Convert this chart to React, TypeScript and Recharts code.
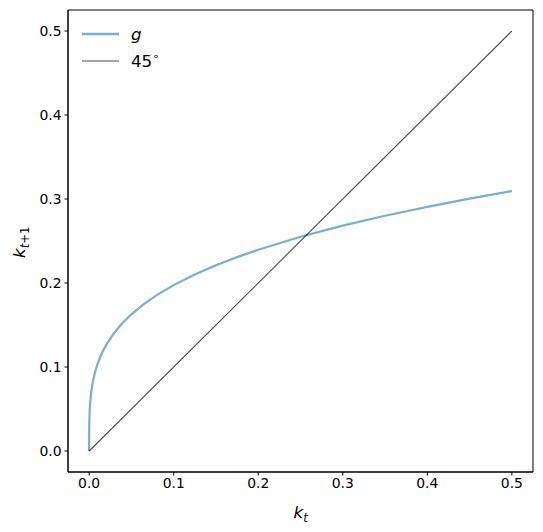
import { LineChart, Line, XAxis, YAxis, ReferenceArea, Label } from 'recharts'

// capital today
const kGrid = [
  0, 0.00001, 0.0001, 0.0005, 0.001, 0.002, 0.004, 0.007, 0.01, 0.015, 0.02, 0.03, 0.04, 0.05, 0.065,
  0.08, 0.1, 0.125, 0.15, 0.175, 0.2, 0.25, 0.3, 0.35, 0.4, 0.45, 0.5
]
// capital tomorrow, g(k)
const gValues = [
  0, 0.0151, 0.0288, 0.0451, 0.0546, 0.0663, 0.0805, 0.094, 0.1039, 0.1163, 0.126, 0.1411, 0.1529,
  0.1627, 0.1751, 0.1856, 0.1975, 0.2101, 0.2211, 0.2308, 0.2396, 0.255, 0.2683, 0.2801, 0.2907,
  0.3004, 0.3094
]
// 45 degree line end points
const diagK = [0, 0.5]
const diagY = [0, 0.5]
const tickValues = [0, 0.1, 0.2, 0.3, 0.4, 0.5]

const gData = kGrid.map((k, i) => ({ k, v: gValues[i] }))
const diagData = diagK.map((k, i) => ({ k, v: diagY[i] }))

const FONT = 'DejaVu Sans'
const tickStyle = { fontFamily: FONT, fontSize: 13.9, fill: '#000' }

const XLabel = (props: any) => {
  const { viewBox } = props
  const cx = viewBox.x + viewBox.width / 2
  return (
    <text x={cx - 7} y={518} fontFamily={FONT} fontSize={16.7} fill='#000'>
      <tspan fontStyle='italic'>k</tspan>
      <tspan fontStyle='italic' fontSize={11.7} dy={4}>t</tspan>
    </text>
  )
}

const YLabel = (props: any) => {
  const { viewBox } = props
  const cy = viewBox.y + viewBox.height / 2
  return (
    <text
      x={0}
      y={0}
      transform={`translate(25, ${cy + 17}) rotate(-90)`}
      fontFamily={FONT}
      fontSize={16.7}
      fill='#000'
    >
      <tspan fontStyle='italic'>k</tspan>
      <tspan fontSize={11.7} dy={4}>
        <tspan fontStyle='italic'>t</tspan>+1
      </tspan>
    </text>
  )
}

const LegendBox = () => (
  <div style={{ position: 'absolute', left: 82, top: 20, fontFamily: FONT, fontSize: 16.7, color: '#000' }}>
    <div style={{ display: 'flex', alignItems: 'center', height: 27 }}>
      <svg width={37} height={4} style={{ marginRight: 12 }}>
        <line x1={0} y1={2} x2={37} y2={2} stroke='#1f77b4' strokeOpacity={0.6} strokeWidth={2.5} />
      </svg>
      <span style={{ fontStyle: 'italic' }}>g</span>
    </div>
    <div style={{ display: 'flex', alignItems: 'center', height: 27 }}>
      <svg width={37} height={4} style={{ marginRight: 12 }}>
        <line x1={0} y1={2} x2={37} y2={2} stroke='#000' strokeOpacity={0.7} strokeWidth={1.2} />
      </svg>
      <span>
        45<sup style={{ fontSize: 11 }}>∘</sup>
      </span>
    </div>
  </div>
)

export default function App() {
  return (
    <div style={{ position: 'absolute', left: 0, top: 0, width: 543, height: 532, background: '#fff' }}>
      <LineChart width={543} height={532} margin={{ top: 10, right: 10, bottom: 0, left: 0 }}>
        <XAxis
          type='number'
          dataKey='k'
          domain={[-0.025, 0.525]}
          ticks={tickValues}
          tickFormatter={(v: number) => v.toFixed(1)}
          tick={tickStyle}
          tickSize={3.5}
          tickMargin={3}
          height={60}
          allowDataOverflow
          stroke='#000'
          label={<Label content={XLabel} />}
        />
        <YAxis
          type='number'
          domain={[-0.025, 0.525]}
          ticks={tickValues}
          tickFormatter={(v: number) => v.toFixed(1)}
          tick={tickStyle}
          tickSize={3.5}
          tickMargin={3}
          width={68}
          allowDataOverflow
          stroke='#000'
          label={<Label content={YLabel} />}
        />
        <ReferenceArea x1={-0.025} x2={0.525} y1={-0.025} y2={0.525} fill='none' stroke='#000' strokeWidth={1} fillOpacity={0} strokeOpacity={1} />
        <Line
          data={gData}
          dataKey='v'
          type='linear'
          stroke='#1f77b4'
          strokeOpacity={0.6}
          strokeWidth={2.2}
          dot={false}
          isAnimationActive={false}
        />
        <Line
          data={diagData}
          dataKey='v'
          type='linear'
          stroke='#000'
          strokeOpacity={0.7}
          strokeWidth={1.1}
          dot={false}
          isAnimationActive={false}
        />
      </LineChart>
      <LegendBox />
    </div>
  )
}
